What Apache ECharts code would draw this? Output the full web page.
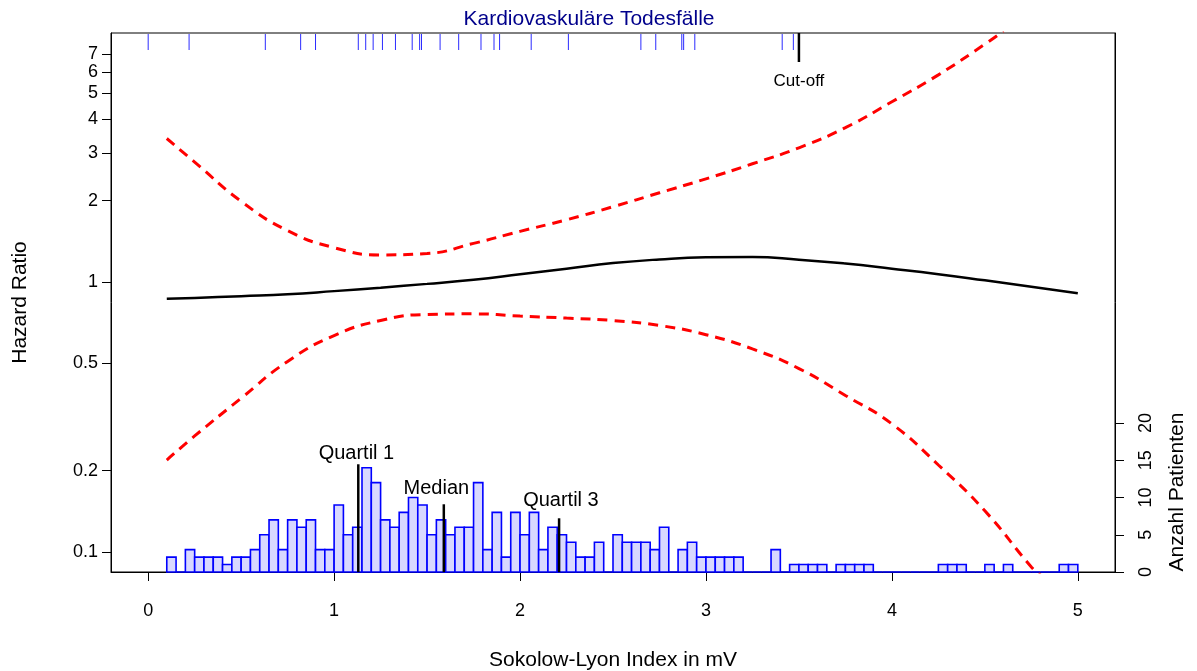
<!DOCTYPE html>
<html><head><meta charset="utf-8">
<script src="https://cdn.jsdelivr.net/npm/echarts@6/dist/echarts.min.js"></script>
<style>html,body{margin:0;padding:0;background:#fff}#c{width:1197px;height:671px}</style>
</head><body><div id="c"></div>
<script>
// ---- data ----
const curveX      = [0.1,0.25,0.5,0.75,1.0,1.25,1.5,1.75,2.0,2.25,2.5,2.75,3.0,3.25,3.5,3.75,4.0,4.25,4.5,4.75,5.0];
const hazardRatio = [0.866,0.873,0.886,0.90,0.925,0.953,0.984,1.02,1.068,1.12,1.175,1.212,1.234,1.238,1.21,1.17,1.12,1.069,1.014,0.96,0.909];
const upperX  = [0.1,0.25,0.5,0.75,1.0,1.25,1.5,1.75,2.0,2.25,2.5,2.75,3.0,3.25,3.5,3.75,4.0,4.25,4.5,4.6];
const upperCI = [3.4,2.78,1.99,1.55,1.34,1.26,1.275,1.39,1.54,1.70,1.90,2.14,2.41,2.74,3.14,3.73,4.65,5.85,7.6,8.5];
const lowerX  = [0.1,0.25,0.5,0.75,1.0,1.25,1.5,1.75,2.0,2.25,2.5,2.75,3.0,3.25,3.5,3.75,4.0,4.25,4.5,4.75,4.8];
const lowerCI = [0.219,0.269,0.371,0.508,0.633,0.72,0.758,0.762,0.748,0.735,0.72,0.69,0.638,0.565,0.478,0.38,0.298,0.21,0.142,0.088,0.082];

// histogram of patients, bins of 0.05 mV starting at 0.10 mV
const binStart = 0.10;
const binWidth = 0.05;
const patientCounts = [2,0,3,2,2,2,1,2,2,3, 5,7,3,7,6,7,3,3,9,5, 6,14,12,7,6,8,10,9,5,7,
  5,6,6,12,3,8,2,8,5,8, 3,6,5,4,2,2,4,0,5,4, 4,4,3,6,0,3,4,2,2,2, 2,2,0,0,0,3,0,1,1,1,
  1,0,1,1,1,1,0,0,0,0, 0,0,0,1,1,1,0,0,1,0, 1,0,0,0,0,0,1,1];

// cardiovascular deaths (rug at top)
const deaths = [0.00,0.22,0.63,0.82,0.90,1.13,1.17,1.21,1.26,1.33,1.42,1.46,1.47,1.57,1.67,1.79,1.86,1.89,
  2.06,2.26,2.65,2.73,2.87,2.88,2.94,3.41,3.47];
const cutoffValue = 3.5;
const cutoffLabel = 'Cut-off';

// quartile markers
const quartileNames  = ['Quartil 1','Median','Quartil 3'];
const quartileValues = [1.13, 1.59, 2.21];
const quartileTops   = [14.46, 9.09, 7.21];   // marker height in patients
const quartileLabelX = [1.12, 1.55, 2.22];
const quartileLabelY = [15.97, 11.23, 9.6];

// axes
const xTicks = [0,1,2,3,4,5];
const hrTicks = [0.1,0.2,0.5,1,2,3,4,5,6,7];
const countTicks = [0,5,10,15,20];

const titleText = 'Kardiovaskuläre Todesfälle';
const xTitle = 'Sokolow-Lyon Index in mV';
const yTitle = 'Hazard Ratio';
const y2Title = 'Anzahl Patienten';

// ---- chart ----
const FONT = 'Liberation Sans, Arial, Helvetica, sans-serif';
const L = v => Math.log10(v);
const pairs = (xs, ys) => xs.map((x, i) => [x, L(ys[i])]);

const histData = patientCounts.map((c, i) => [binStart + i * binWidth, binStart + (i + 1) * binWidth, c]);

const chart = echarts.init(document.getElementById('c'), null, {renderer: 'canvas'});
chart.setOption({
  animation: false,
  backgroundColor: '#fff',
  grid: {left: 111, top: 33, right: 82, bottom: 99, show: true, borderColor: '#000', borderWidth: 1,
         backgroundColor: 'transparent', containLabel: false, outerBoundsMode: 'none'},
  graphic: [
    {type: 'text', x: 589, y: 19, style: {text: titleText, fill: '#00008b',
      font: '21px ' + FONT, textAlign: 'center', textVerticalAlign: 'middle'}},
    {type: 'text', x: 1177, y: 492, rotation: Math.PI / 2, style: {text: y2Title, fill: '#000',
      font: '21px ' + FONT, textAlign: 'center', textVerticalAlign: 'middle'}}
  ],
  xAxis: {
    type: 'value', min: -0.2, max: 5.2,
    axisLine: {show: true, onZero: false, lineStyle: {color: '#000', width: 1}},
    axisTick: {show: true, customValues: xTicks, length: 9, lineStyle: {color: '#000', width: 1}},
    axisLabel: {customValues: xTicks, margin: 30, fontSize: 18, color: '#000', fontFamily: FONT},
    splitLine: {show: false},
    name: xTitle, nameLocation: 'middle', nameGap: 78,
    nameTextStyle: {fontSize: 21, color: '#000', fontFamily: FONT}
  },
  yAxis: [{
    type: 'value', min: L(0.0843), max: L(8.36),
    axisLine: {show: true, onZero: false, lineStyle: {color: '#000', width: 1}},
    axisTick: {show: true, customValues: hrTicks.map(L), length: 9, lineStyle: {color: '#000', width: 1}},
    axisLabel: {customValues: hrTicks.map(L), margin: 13, fontSize: 18, color: '#000', fontFamily: FONT,
      formatter: v => String(Math.round(Math.pow(10, v) * 10) / 10)},
    splitLine: {show: false},
    name: yTitle, nameLocation: 'middle', nameGap: 80,
    nameTextStyle: {fontSize: 21, color: '#000', fontFamily: FONT}
  }, {
    type: 'value', position: 'right', min: 0, max: 72.35,
    axisLine: {show: true, onZero: false, lineStyle: {color: '#000', width: 1}},
    axisTick: {show: true, customValues: countTicks, length: 9, lineStyle: {color: '#000', width: 1}},
    axisLabel: {customValues: countTicks, rotate: 90, margin: 22, fontSize: 18, color: '#000', fontFamily: FONT},
    splitLine: {show: false}
  }],
  series: [
    {
      type: 'custom', name: 'hist', yAxisIndex: 1, z: 2, silent: true,
      encode: {x: [0, 1], y: 2},
      data: histData,
      renderItem: (params, api) => {
        const p0 = api.coord([api.value(0), api.value(2)]);
        const p1 = api.coord([api.value(1), 0]);
        return {type: 'rect', shape: {x: p0[0], y: p0[1], width: p1[0] - p0[0], height: p1[1] - p0[1]},
          style: {fill: '#d8d8ff', stroke: '#0000ff', lineWidth: 1.6}};
      }
    },
    {
      type: 'custom', name: 'quartiles', yAxisIndex: 1, z: 3, silent: true,
      encode: {x: 0, y: 1},
      data: quartileValues.map((q, i) => [q, quartileTops[i], quartileLabelX[i], quartileLabelY[i], i]),
      renderItem: (params, api) => {
        const b = api.coord([api.value(0), 0]);
        const t = api.coord([api.value(0), api.value(1)]);
        const lp = api.coord([api.value(2), api.value(3)]);
        return {type: 'group', children: [
          {type: 'line', shape: {x1: b[0], y1: b[1], x2: t[0], y2: t[1]}, style: {stroke: '#000', lineWidth: 2.5}},
          {type: 'text', style: {x: lp[0], y: lp[1], text: quartileNames[api.value(4)], fill: '#000',
            font: '20px ' + FONT, textAlign: 'center', textVerticalAlign: 'middle'}}
        ]};
      }
    },
    {
      type: 'custom', name: 'rug', z: 3, silent: true,
      encode: {x: 0},
      data: deaths.map(d => [d]),
      renderItem: (params, api) => {
        const p = api.coord([api.value(0), 0]);
        const top = params.coordSys.y;
        return {type: 'line', shape: {x1: p[0], y1: top + 1, x2: p[0], y2: top + 17},
          style: {stroke: '#2b2bff', lineWidth: 1}};
      }
    },
    {
      type: 'custom', name: 'cutoff', z: 3, silent: true,
      encode: {x: 0},
      data: [[cutoffValue]],
      renderItem: (params, api) => {
        const p = api.coord([api.value(0), 0]);
        const top = params.coordSys.y;
        return {type: 'group', children: [
          {type: 'line', shape: {x1: p[0], y1: top, x2: p[0], y2: top + 29}, style: {stroke: '#000', lineWidth: 2.5}},
          {type: 'text', style: {x: p[0], y: top + 48, text: cutoffLabel, fill: '#000',
            font: '17px ' + FONT, textAlign: 'center', textVerticalAlign: 'middle'}}
        ]};
      }
    },
    {
      type: 'line', name: 'lower', data: pairs(lowerX, lowerCI), showSymbol: false, smooth: 0.5, clip: true,
      z: 4, silent: true, lineStyle: {color: '#ff0000', width: 3, type: [10, 7]}
    },
    {
      type: 'line', name: 'upper', data: pairs(upperX, upperCI), showSymbol: false, smooth: 0.5, clip: true,
      z: 4, silent: true, lineStyle: {color: '#ff0000', width: 3, type: [10, 7]}
    },
    {
      type: 'line', name: 'hr', data: pairs(curveX, hazardRatio), showSymbol: false, smooth: 0.5, clip: true,
      z: 5, silent: true, lineStyle: {color: '#000', width: 2.5}
    }
  ]
});
</script></body></html>
